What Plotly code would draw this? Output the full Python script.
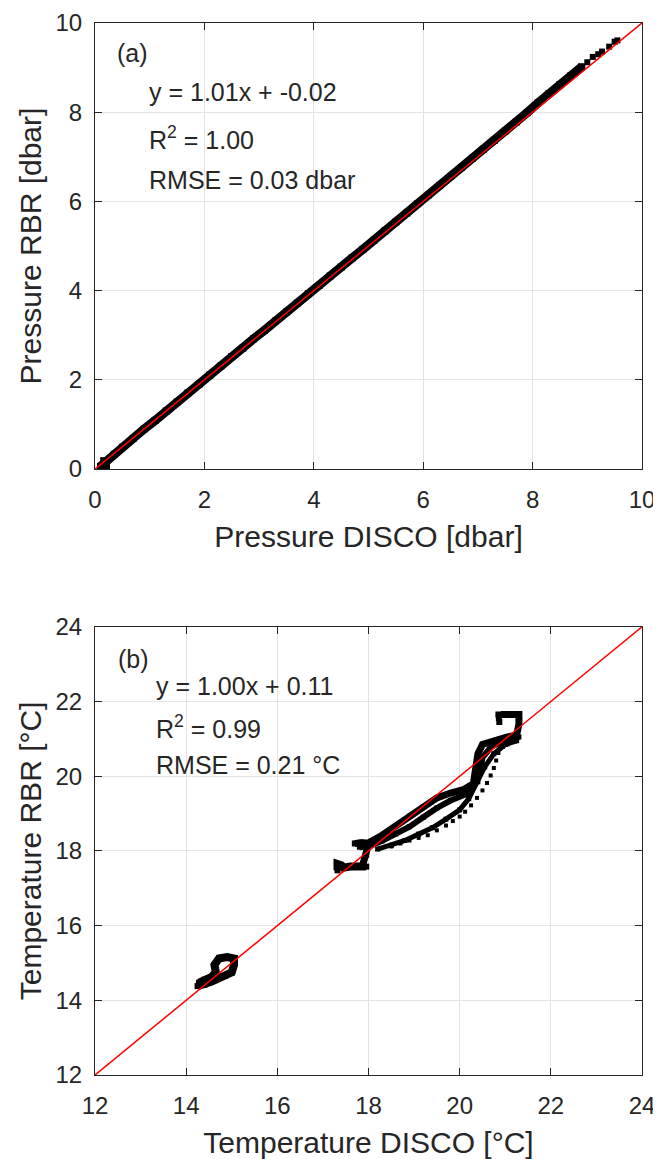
import plotly.graph_objects as go

# ---------------- Panel (a): pressure ----------------
p_disco = [0.10, 0.20, 0.35, 0.50, 0.70, 0.90, 1.10, 1.30, 1.50, 1.70, 1.90, 2.10, 2.30,
           2.50, 2.70, 2.90, 3.10, 3.30, 3.50, 3.70, 3.90, 4.10, 4.30, 4.50, 4.70, 4.90,
           5.10, 5.30, 5.50, 5.70, 5.90, 6.10, 6.30, 6.50, 6.70, 6.90, 7.10, 7.30, 7.50,
           7.70, 7.90, 8.10, 8.30, 8.50, 8.70, 8.90]
p_rbr = [0.06, 0.17, 0.33, 0.49, 0.69, 0.90, 1.09, 1.30, 1.50, 1.71, 1.90, 2.11, 2.31,
         2.52, 2.71, 2.92, 3.11, 3.32, 3.52, 3.72, 3.93, 4.12, 4.33, 4.53, 4.73, 4.93,
         5.13, 5.34, 5.54, 5.74, 5.95, 6.15, 6.36, 6.56, 6.76, 6.97, 7.17, 7.37, 7.58,
         7.78, 7.99, 8.21, 8.42, 8.62, 8.82, 9.02]
p_disco_sparse = [0.12, 0.18, 0.22, 0.15, 9.00, 9.10, 9.20, 9.27, 9.40, 9.50, 9.55]
p_rbr_sparse = [0.00, 0.02, 0.05, 0.20, 9.12, 9.24, 9.30, 9.36, 9.47, 9.58, 9.61]
p_range = [0, 10]
p_ticks = [0, 2, 4, 6, 8, 10]

# ---------------- Panel (b): temperature ----------------
t_cluster14_x = [14.25, 14.40, 14.55, 14.70, 14.85, 15.00, 15.05, 15.05, 14.90, 14.72, 14.62, 14.65, 14.55, 14.40, 14.28]
t_cluster14_y = [14.38, 14.42, 14.50, 14.58, 14.65, 14.75, 14.95, 15.12, 15.16, 15.12, 14.95, 14.75, 14.62, 14.55, 14.47]
t_cluster17_x = [17.32, 17.32, 17.40, 17.45, 17.60, 17.80, 17.95]
t_cluster17_y = [17.48, 17.65, 17.62, 17.55, 17.58, 17.60, 17.58]
t_blob18_x = [17.70, 17.85, 18.00, 17.95, 17.88]
t_blob18_y = [18.20, 18.22, 18.18, 17.90, 17.65]
t_strand_a_x = [17.75, 18.00, 18.30, 18.60, 18.90, 19.20, 19.50, 19.80, 20.10, 20.30, 20.35, 20.40, 20.50, 20.80, 21.05, 21.25, 21.30, 21.30, 21.10, 20.90]
t_strand_a_y = [18.20, 18.22, 18.42, 18.68, 18.93, 19.18, 19.42, 19.55, 19.65, 19.80, 20.20, 20.60, 20.85, 20.97, 21.05, 21.10, 21.40, 21.65, 21.66, 21.65]
t_strand_b_x = [17.80, 18.00, 18.30, 18.60, 18.90, 19.20, 19.50, 19.80, 20.10, 20.30, 20.45, 20.50, 20.70, 21.00, 21.30]
t_strand_b_y = [18.10, 18.12, 18.27, 18.45, 18.65, 18.90, 19.15, 19.35, 19.50, 19.70, 20.10, 20.50, 20.80, 20.95, 21.05]
t_strand_c_x = [18.20, 18.50, 18.80, 19.10, 19.40, 19.70, 20.00, 20.20, 20.40, 20.55, 20.75, 21.00, 21.25]
t_strand_c_y = [18.05, 18.15, 18.28, 18.45, 18.62, 18.85, 19.10, 19.40, 19.85, 20.25, 20.60, 20.85, 20.95]
t_strand_d_x = [18.50, 18.70, 18.90, 19.10, 19.30, 19.50, 19.70, 19.85, 20.00, 20.12, 20.25, 20.38, 20.50, 20.60, 20.68, 20.75, 20.80, 20.85, 20.95, 21.05]
t_strand_d_y = [18.12, 18.20, 18.28, 18.35, 18.42, 18.55, 18.68, 18.80, 18.92, 19.05, 19.22, 19.42, 19.62, 19.82, 20.02, 20.22, 20.42, 20.62, 20.78, 20.85]
t_hook_x = [20.85, 20.86, 20.87]
t_hook_y = [21.65, 21.55, 21.45]
t_range = [12, 24]
t_ticks = [12, 14, 16, 18, 20, 22, 24]

FONT = "Liberation Sans, Arial, sans-serif"
TXT = "#262626"
GRID = "#e3e3e3"

fig = go.Figure()

def band(x, y, xa, ya, lw, ms):
    fig.add_trace(go.Scatter(x=x, y=y, xaxis=xa, yaxis=ya, mode="lines+markers",
                             line=dict(color="black", width=lw),
                             marker=dict(symbol="square", size=ms, color="black"),
                             showlegend=False, hoverinfo="skip"))

def dots(x, y, xa, ya, ms):
    fig.add_trace(go.Scatter(x=x, y=y, xaxis=xa, yaxis=ya, mode="markers",
                             marker=dict(symbol="square", size=ms, color="black"),
                             showlegend=False, hoverinfo="skip"))

def redline(r, xa, ya):
    fig.add_trace(go.Scatter(x=r, y=r, xaxis=xa, yaxis=ya, mode="lines",
                             line=dict(color="#ff0000", width=1.5),
                             showlegend=False, hoverinfo="skip"))

# panel a
band(p_disco, p_rbr, "x", "y", 9, 7)
dots(p_disco_sparse, p_rbr_sparse, "x", "y", 6)
redline(p_range, "x", "y")

# panel b
band(t_cluster14_x, t_cluster14_y, "x2", "y2", 8, 6)
band(t_cluster17_x, t_cluster17_y, "x2", "y2", 8, 6)
band(t_blob18_x, t_blob18_y, "x2", "y2", 7, 6)
band(t_strand_a_x, t_strand_a_y, "x2", "y2", 7, 5)
band(t_strand_b_x, t_strand_b_y, "x2", "y2", 6, 5)
band(t_strand_c_x, t_strand_c_y, "x2", "y2", 5, 5)
dots(t_strand_d_x, t_strand_d_y, "x2", "y2", 4)
dots(t_hook_x, t_hook_y, "x2", "y2", 6)
redline(t_range, "x2", "y2")

axis_common = dict(showgrid=True, gridcolor=GRID, gridwidth=1, zeroline=False,
                   showline=True, linecolor=TXT, linewidth=1, mirror="allticks",
                   ticks="inside", ticklen=7, tickcolor=TXT, automargin=False,
                   tickfont=dict(family=FONT, size=24, color=TXT),
                   title_font=dict(family=FONT, size=30, color=TXT))
xcommon = dict(axis_common, ticklabelstandoff=9)
ycommon = dict(axis_common, ticklabelstandoff=7)

# the page body has an 8 px default margin, so the figure is 8 px smaller
fig.update_layout(
    width=653, height=1151,
    margin=dict(l=87, r=19, t=15, b=84),
    plot_bgcolor="white", paper_bgcolor="white",
    xaxis=dict(xcommon, domain=[0, 1], anchor="y", range=p_range, tickvals=p_ticks,
               title=dict(text="Pressure DISCO [dbar]", standoff=14)),
    yaxis=dict(ycommon, domain=[0.576, 1], anchor="x", range=p_range, tickvals=p_ticks,
               title=dict(text="Pressure RBR [dbar]", standoff=4)),
    xaxis2=dict(xcommon, domain=[0, 1], anchor="y2", range=t_range, tickvals=t_ticks,
                title=dict(text="Temperature DISCO [°C]", standoff=14)),
    yaxis2=dict(ycommon, domain=[0, 0.426], anchor="x2", range=t_range, tickvals=t_ticks,
                title=dict(text="Temperature RBR [°C]", standoff=4)),
)

def note(text, x, y, xr, yr):
    fig.add_annotation(text=text, x=x, y=y, xref=xr, yref=yr, xanchor="left", yanchor="middle",
                       showarrow=False, font=dict(family=FONT, size=25, color=TXT))

note("(a)", 0.37, 9.33, "x", "y")
note("y = 1.01x + -0.02", 0.95, 8.45, "x", "y")
note("R<sup>2</sup> = 1.00", 0.95, 7.42, "x", "y")
note("RMSE = 0.03 dbar", 0.95, 6.48, "x", "y")

note("(b)", 12.47, 23.15, "x2", "y2")
note("y = 1.00x + 0.11", 13.29, 22.41, "x2", "y2")
note("R<sup>2</sup> = 0.99", 13.29, 21.31, "x2", "y2")
note("RMSE = 0.21 °C", 13.29, 20.30, "x2", "y2")

fig.write_html("out.html")
